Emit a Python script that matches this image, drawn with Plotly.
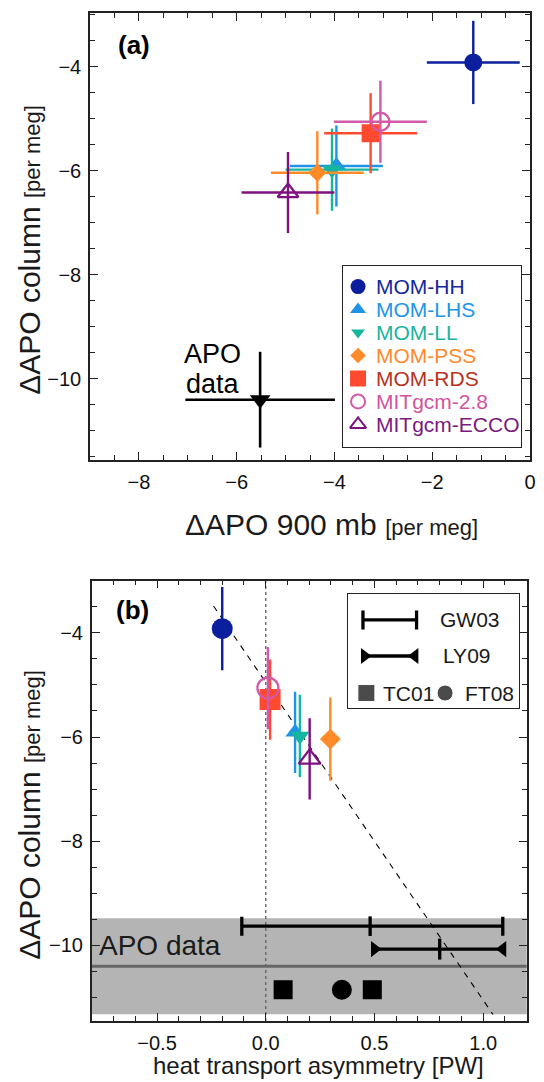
import numpy as np
import plotly.graph_objects as go

# ---------------- data ----------------
models = ["MOM-HH", "MOM-LHS", "MOM-LL", "MOM-PSS", "MOM-RDS", "MITgcm-2.8", "MITgcm-ECCO"]
apo_900mb = [-1.16, -3.96, -4.05, -4.35, -3.26, -3.06, -4.95]
apo_900mb_err = [0.95, 0.95, 0.95, 0.95, 0.95, 0.95, 0.95]
apo_column = [-3.92, -5.91, -5.98, -6.04, -5.28, -5.06, -6.42]
apo_column_err = [0.80, 0.78, 0.79, 0.80, 0.77, 0.79, 0.78]
heat_asym = [-0.20, 0.135, 0.157, 0.297, 0.02, 0.01, 0.202]

# observed APO gradients
obs_900mb, obs_900mb_err = -5.52, 1.53
obs_column, obs_column_err = -10.40, 0.92

# independent heat-transport estimates [PW]
gw03_x, gw03_lo, gw03_hi = 0.48, -0.11, 1.09
ly09_x, ly09_lo, ly09_hi = 0.80, 0.50, 1.09
tc01_x = [0.08, 0.49]
ft08_x = [0.35]
row_gw03, row_ly09, row_points = -9.63, -10.07, -10.85

# model regression line
fit_slope, fit_intercept = -6.10, -4.95
fit_x = np.array([-0.24, 1.045])

# ---------------- styles ----------------
colors = ["#0b1f9e", "#1f93e6", "#16b5a0", "#ff8a28", "#ff4a30", "#d25aa8", "#7d1280"]
text_colors = ["#14289c", "#2196e8", "#1bb49c", "#ff8a2d", "#b8321e", "#d2549e", "#7a1a80"]
symbols = ["circle", "triangle-up", "triangle-down", "diamond", "square",
           "circle-open", "triangle-up-open"]
size_a = [18, 18, 17, 14, 18, 18, 18]
size_b = [21, 17, 17, 16, 21, 21, 19]
size_key = [15, 14, 12, 12, 16, 14, 14]
FONT = "Liberation Sans, Arial, Helvetica, sans-serif"
INK = "#1a1a1a"

fig = go.Figure()


def marker(i, size):
    open_sym = symbols[i].endswith("open")
    return dict(symbol=symbols[i], size=size, color=colors[i],
                line=dict(width=2.3 if open_sym else 0, color=colors[i]))


# ---- panel (a): column vs 900 mb ----
for i, name in enumerate(models):
    fig.add_trace(go.Scatter(
        x=[apo_900mb[i]], y=[apo_column[i]], mode="markers", name=name,
        marker=marker(i, size_a[i]),
        error_x=dict(type="data", array=[apo_900mb_err[i]], width=0, thickness=2.4, color=colors[i]),
        error_y=dict(type="data", array=[apo_column_err[i]], width=0, thickness=2.4, color=colors[i]),
        xaxis="x", yaxis="y", showlegend=False))

fig.add_trace(go.Scatter(
    x=[obs_900mb], y=[obs_column], mode="markers", name="APO data",
    marker=dict(symbol="triangle-down", size=18, color="black"),
    error_x=dict(type="data", array=[obs_900mb_err], width=0, thickness=2.6, color="black"),
    error_y=dict(type="data", array=[obs_column_err], width=0, thickness=2.6, color="black"),
    xaxis="x", yaxis="y", showlegend=False))

# ---- panel (b): column vs heat transport asymmetry ----
fig.add_trace(go.Scatter(
    x=fit_x, y=fit_intercept + fit_slope * fit_x, mode="lines",
    line=dict(color="black", width=1.1, dash="6px,6px"),
    xaxis="x2", yaxis="y2", showlegend=False, hoverinfo="skip"))

for i, name in enumerate(models):
    fig.add_trace(go.Scatter(
        x=[heat_asym[i]], y=[apo_column[i]], mode="markers", name=name,
        marker=marker(i, size_b[i]),
        error_y=dict(type="data", array=[apo_column_err[i]], width=0, thickness=2.4, color=colors[i]),
        xaxis="x2", yaxis="y2", showlegend=False))

# GW03 estimate with its range
fig.add_trace(go.Scatter(
    x=[gw03_x], y=[row_gw03], mode="markers", name="GW03",
    marker=dict(symbol="line-ns", size=14, line=dict(width=3.3, color="black")),
    error_x=dict(type="data", array=[gw03_hi - gw03_x], arrayminus=[gw03_x - gw03_lo],
                 width=9.5, thickness=3.3, color="black"),
    xaxis="x2", yaxis="y2", showlegend=False))
# LY09 estimate with its range
fig.add_trace(go.Scatter(
    x=[ly09_lo, ly09_hi], y=[row_ly09, row_ly09], mode="lines+markers", name="LY09",
    line=dict(color="black", width=3.3),
    marker=dict(symbol=["triangle-right", "triangle-left"], size=14, color="black"),
    xaxis="x2", yaxis="y2", showlegend=False))
fig.add_trace(go.Scatter(
    x=[ly09_x], y=[row_ly09], mode="markers",
    marker=dict(symbol="line-ns", size=15, line=dict(width=3.3, color="black")),
    xaxis="x2", yaxis="y2", showlegend=False))
fig.add_trace(go.Scatter(
    x=tc01_x, y=[row_points] * len(tc01_x), mode="markers", name="TC01",
    marker=dict(symbol="square", size=19, color="black"),
    xaxis="x2", yaxis="y2", showlegend=False))
fig.add_trace(go.Scatter(
    x=ft08_x, y=[row_points] * len(ft08_x), mode="markers", name="FT08",
    marker=dict(symbol="circle", size=20, color="black"),
    xaxis="x2", yaxis="y2", showlegend=False))

# ---- key for panel (b) (inset axes x3/y3, unit square) ----
fig.add_trace(go.Scatter(
    x=[0.243], y=[0.775], mode="markers", marker=dict(size=1, color="rgba(0,0,0,0)"),
    error_x=dict(type="data", array=[0.157], width=9.5, thickness=3.3, color="black"),
    xaxis="x3", yaxis="y3", showlegend=False, hoverinfo="skip"))
fig.add_trace(go.Scatter(
    x=[0.095, 0.39], y=[0.459, 0.459], mode="lines+markers",
    line=dict(color="black", width=3.3),
    marker=dict(symbol=["triangle-right", "triangle-left"], size=14, color="black"),
    xaxis="x3", yaxis="y3", showlegend=False, hoverinfo="skip"))
fig.add_trace(go.Scatter(
    x=[0.106, 0.567], y=[0.134, 0.134], mode="markers",
    marker=dict(symbol=["square", "circle"], size=[17, 16], color="black"),
    xaxis="x3", yaxis="y3", showlegend=False, hoverinfo="skip"))

# ---- key for panel (a) (inset axes x4/y4, unit square) ----
key_rows = [0.885 - k * 0.1265 for k in range(len(models))]
for i, name in enumerate(models):
    m = marker(i, size_key[i])
    if symbols[i].endswith("open"):
        m["line"]["width"] = 2
    fig.add_trace(go.Scatter(
        x=[0.083], y=[key_rows[i]], mode="markers", marker=m,
        xaxis="x4", yaxis="y4", showlegend=False, hoverinfo="skip"))

# ---------------- axes ----------------
axis_common = dict(showline=True, linecolor="#222", linewidth=1.5, mirror="ticks",
                   ticks="inside", ticklen=8, tickwidth=1.3, tickcolor="#222",
                   showgrid=False, zeroline=False, ticklabelstandoff=3,
                   tickfont=dict(size=20, color="#111", family=FONT))


def minor(step):
    return dict(dtick=step, ticks="inside", ticklen=5, tickwidth=1.1, tickcolor="#222", showgrid=False)


inset = dict(range=[0, 1], showline=True, mirror=True, linecolor="#222", linewidth=1.4,
             ticks="", showticklabels=False, showgrid=False, zeroline=False, fixedrange=True)

fig.update_layout(
    width=544, height=1082,
    margin=dict(l=90, r=8, t=13, b=61),
    paper_bgcolor="white", plot_bgcolor="white",
    font=dict(family=FONT, color=INK),
    showlegend=False,
    xaxis=dict(domain=[0, 1], anchor="y", range=[-9, 0], tick0=0, dtick=2,
               minor=minor(0.5), **axis_common),
    yaxis=dict(domain=[0.5565, 1], anchor="x", range=[-11.56, -2.97], tick0=0, dtick=2,
               minor=minor(0.5), **axis_common),
    xaxis2=dict(domain=[0.004, 0.9925], anchor="y2", range=[-0.8, 1.2], tick0=0, dtick=0.5,
                tickformat=".1f", minor=minor(0.1), **axis_common),
    yaxis2=dict(domain=[0, 0.4368], anchor="x2", range=[-11.45, -3.0], tick0=0, dtick=2,
                minor=minor(0.5), **axis_common),
    xaxis3=dict(domain=[0.587, 0.975], anchor="y3", **inset),
    yaxis3=dict(domain=[0.3102, 0.4233], anchor="x3", **inset),
    xaxis4=dict(domain=[0.5756, 0.9805], anchor="y4", **inset),
    yaxis4=dict(domain=[0.5692, 0.7493], anchor="x4", **inset),
)

# observational band in panel (b)
fig.add_shape(type="rect", xref="x2 domain", yref="y2", x0=0, x1=1,
              y0=obs_column - obs_column_err, y1=obs_column + obs_column_err,
              fillcolor="#b4b4b4", line=dict(width=0), layer="below")
fig.add_shape(type="line", xref="x2 domain", yref="y2", x0=0, x1=1,
              y0=obs_column, y1=obs_column, line=dict(color="#666666", width=3), layer="below")
fig.add_shape(type="line", xref="x2", yref="y2 domain", x0=0, x1=0, y0=0, y1=1,
              line=dict(color="#666666", width=1.4, dash="dot"), layer="below")

# ---------------- text ----------------
ann = []
ann.append(dict(text="<b>(a)</b>", xref="x domain", yref="y domain", x=0.058, y=0.928,
                xanchor="left", yanchor="middle", showarrow=False,
                font=dict(size=26, color="black")))
ann.append(dict(text="<b>(b)</b>", xref="x2 domain", yref="y2 domain", x=0.05, y=0.933,
                xanchor="left", yanchor="middle", showarrow=False,
                font=dict(size=26, color="black")))
ann.append(dict(text="APO", xref="x", yref="y", x=-6.49, y=-9.53, xanchor="center",
                yanchor="middle", showarrow=False, font=dict(size=27, color="black")))
ann.append(dict(text="data", xref="x", yref="y", x=-6.49, y=-10.09, xanchor="center",
                yanchor="middle", showarrow=False, font=dict(size=27, color="black")))
ann.append(dict(text="APO data", xref="x2", yref="y2", x=-0.775, y=-10.0, xanchor="left",
                yanchor="middle", showarrow=False, font=dict(size=28, color=INK)))

for i, name in enumerate(models):
    ann.append(dict(text=name, xref="x4", yref="y4", x=0.17, y=key_rows[i], xanchor="left",
                    yanchor="middle", showarrow=False, font=dict(size=21, color=text_colors[i])))

for label, kx, ky in [("GW03", 0.527, 0.775), ("LY09", 0.544, 0.459),
                      ("TC01", 0.19, 0.134), ("FT08", 0.672, 0.134)]:
    ann.append(dict(text=label, xref="x3", yref="y3", x=kx, y=ky, xanchor="left",
                    yanchor="middle", showarrow=False, font=dict(size=21, color=INK)))

unit = "<span style='font-size:22px'>[per meg]</span>"
ann.append(dict(text="ΔAPO 900 mb " + unit, xref="paper", yref="paper",
                x=(335 - 90) / 446, y=(1021 - 524) / 1008, xanchor="center", yanchor="middle",
                showarrow=False, font=dict(size=30, color=INK)))
ann.append(dict(text="heat transport asymmetry [PW]", xref="paper", yref="paper",
                x=(322 - 90) / 446, y=(1021 - 1065) / 1008, xanchor="center", yanchor="middle",
                showarrow=False, font=dict(size=24, color=INK)))
for yc in (250, 815):
    ann.append(dict(text="ΔAPO column " + unit, xref="paper", yref="paper",
                    x=(28 - 90) / 446, y=(1021 - yc) / 1008, xanchor="center", yanchor="middle",
                    textangle=-90, showarrow=False, font=dict(size=30, color=INK)))

fig.update_layout(annotations=ann)
fig.write_html("out.html")
